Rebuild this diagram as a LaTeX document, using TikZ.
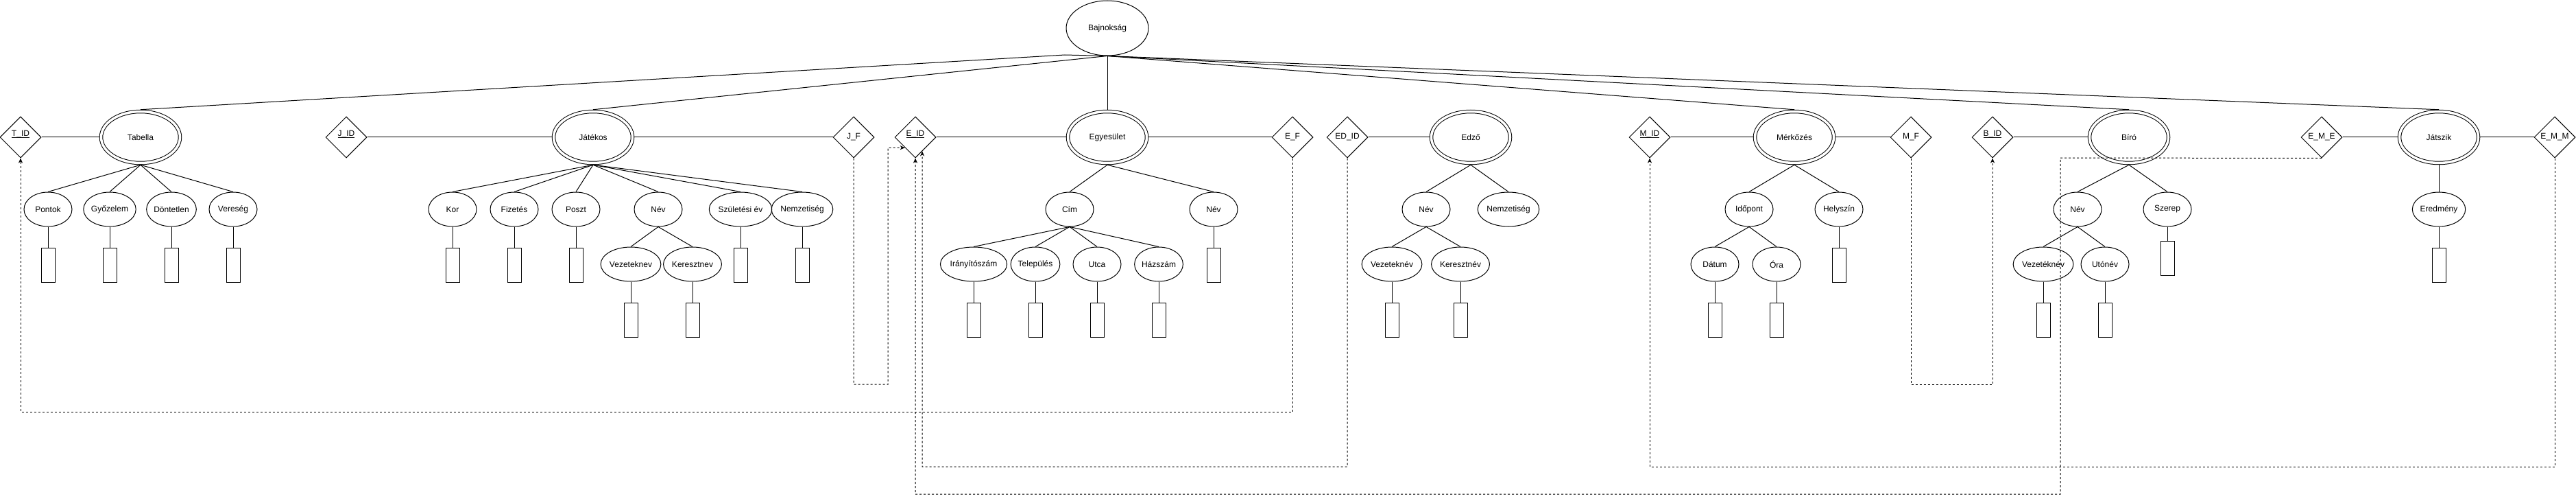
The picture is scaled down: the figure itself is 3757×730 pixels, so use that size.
\documentclass[tikz,border=0pt]{standalone}
\usepackage{fontspec}
\setmainfont{Liberation Sans}
\usetikzlibrary{shapes.geometric,arrows.meta,calc}
\newcommand\keyul[1]{\underline{\smash{#1}}}
\begin{document}
\begin{tikzpicture}[x=1pt,y=-1pt,line width=1pt,
  every node/.style={font=\fontsize{12}{14}\selectfont,inner sep=0pt},
  ent/.style={ellipse,draw,double,double distance=3.5pt,minimum width=115pt,minimum height=75pt,outer sep=2.75pt},
  rootent/.style={ellipse,draw,minimum width=120pt,minimum height=80pt},
  attr/.style={ellipse,draw,minimum width=70pt,minimum height=50pt},
  rel/.style={diamond,draw,minimum width=60pt,minimum height=60pt},
  valbox/.style={rectangle,draw,minimum width=20pt,minimum height=50pt,anchor=north},
  fk/.style={dash pattern=on 3pt off 3pt,-{Stealth[length=7pt,width=6pt,inset=2pt]}}]
\useasboundingbox (0,0) rectangle (3757,730);

% root
\node[rootent] (baj) at (1615,41) {Bajnokság};

% entities
\node[ent] (tab) at (205,200) {Tabella};
\node[ent] (jat) at (865,200) {Játékos};
\node[ent] (egy) at (1615,200) {Egyesület};
\node[ent] (edz) at (2145,200) {Edző};
\node[ent] (mer) at (2617,200) {Mérkőzés};
\node[ent] (bir) at (3105,200) {Bíró};
\node[ent] (jsz) at (3557,200) {Játszik};

% diamonds
\node[rel] (tid) at (30,200) {\keyul{T\_ID}};
\node[rel] (jid) at (505,200) {\keyul{J\_ID}};
\node[rel] (jf) at (1245,200) {J\_F};
\node[rel] (eid) at (1335,200) {\keyul{E\_ID}};
\node[rel] (ef) at (1885,200) {E\_F};
\node[rel] (edid) at (1965,200) {ED\_ID};
\node[rel] (mid) at (2406,200) {\keyul{M\_ID}};
\node[rel] (mf) at (2787,200) {M\_F};
\node[rel] (bid) at (2906,200) {\keyul{B\_ID}};
\node[rel] (eme) at (3386,200) {E\_M\_E};
\node[rel] (emm) at (3726,200) {E\_M\_M};

% root links
\coordinate (bajk) at (1553,80);
\draw (baj.south) -- (bajk) -- (tab.north);
\foreach \e in {jat,egy,mer,bir,jsz} \draw (baj.south) -- (\e.north);

% entity - key links
\foreach \a/\b in {tid/tab,jid/jat,jat/jf,eid/egy,egy/ef,edid/edz,mid/mer,mer/mf,bid/bir,eme/jsz,jsz/emm}
  \draw (\a.east) -- (\b.west);

% first-level attributes
\foreach \n/\x/\t in {pon/70/Pontok,gyo/160/Győzelem,don/250/Döntetlen,ver/340/Vereség,
  kor/660/Kor,fiz/750/Fizetés,pos/840/Poszt,jnev/960/Név,szu/1080/Születési év,jnem/1170/Nemzetiség,
  cim/1560/Cím,enev/1770/Név,ednev/2080/Név,ednem/2200/Nemzetiség,
  ido/2551/Időpont,hely/2682/Helyszín,bnev/3030/Név,sze/3161/Szerep,ere/3557/Eredmény}
  \node[attr] (\n) at (\x,305) {\t};

% second-level attributes
\foreach \n/\x/\t in {jvez/920/Vezeteknev,jker/1010/Keresztnev,
  iri/1420/Irányítószám,tel/1510/Település,utc/1600/Utca,haz/1690/Házszám,
  edvez/2030/Vezeteknév,edker/2130/Keresztnév,
  dat/2501/Dátum,ora/2591/Óra,bvez/2980/Vezetéknév,buto/3070/Utónév}
  \node[attr] (\n) at (\x,385) {\t};

% attribute links
\foreach \p/\c in {tab/pon,tab/gyo,tab/don,tab/ver,
  jat/kor,jat/fiz,jat/pos,jat/jnev,jat/szu,jat/jnem,jnev/jvez,jnev/jker,
  egy/cim,egy/enev,cim/iri,cim/tel,cim/utc,cim/haz,
  edz/ednev,edz/ednem,ednev/edvez,ednev/edker,
  mer/ido,mer/hely,ido/dat,ido/ora,
  bir/bnev,bir/sze,bnev/bvez,bnev/buto,jsz/ere}
  \draw (\p.south) -- (\c.north);

% value boxes
\foreach \n in {pon,gyo,don,ver,kor,fiz,pos,szu,jnem,enev,hely,ere,
  jvez,jker,iri,tel,utc,haz,edvez,edker,dat,ora,bvez,buto}
  {\node[valbox] (\n-v) at ($(\n.south)+(0,30)$) {};
   \draw (\n.south) -- (\n-v.north);}
\node[valbox] (sze-v) at ($(sze.south)+(0,20)$) {};
\draw (sze.south) -- (sze-v.north);

% foreign key references (dashed)
\draw[fk] (ef.south) -- (1885,600) -- (30,600) -- (tid.south);
\draw[fk] (jf.south) -- (1245,560) -- (1295,560) -- (1295,215) -- (eid.south west);
\coordinate (eidr) at ($(eid.south)!0.33!(eid.east)$);
\draw[fk] (edid.south) -- (1965,680) -- (1345,680) -- (eidr);
\draw[fk] (eme.south) -- (3005,230) -- (3005,720) -- (1335,720) -- (eid.south);
\draw[fk] (emm.south) -- (3726,680) -- (2406,680) -- (mid.south);
\draw[fk] (mf.south) -- (2787,560) -- (2906,560) -- (bid.south);
\end{tikzpicture}
\end{document}
